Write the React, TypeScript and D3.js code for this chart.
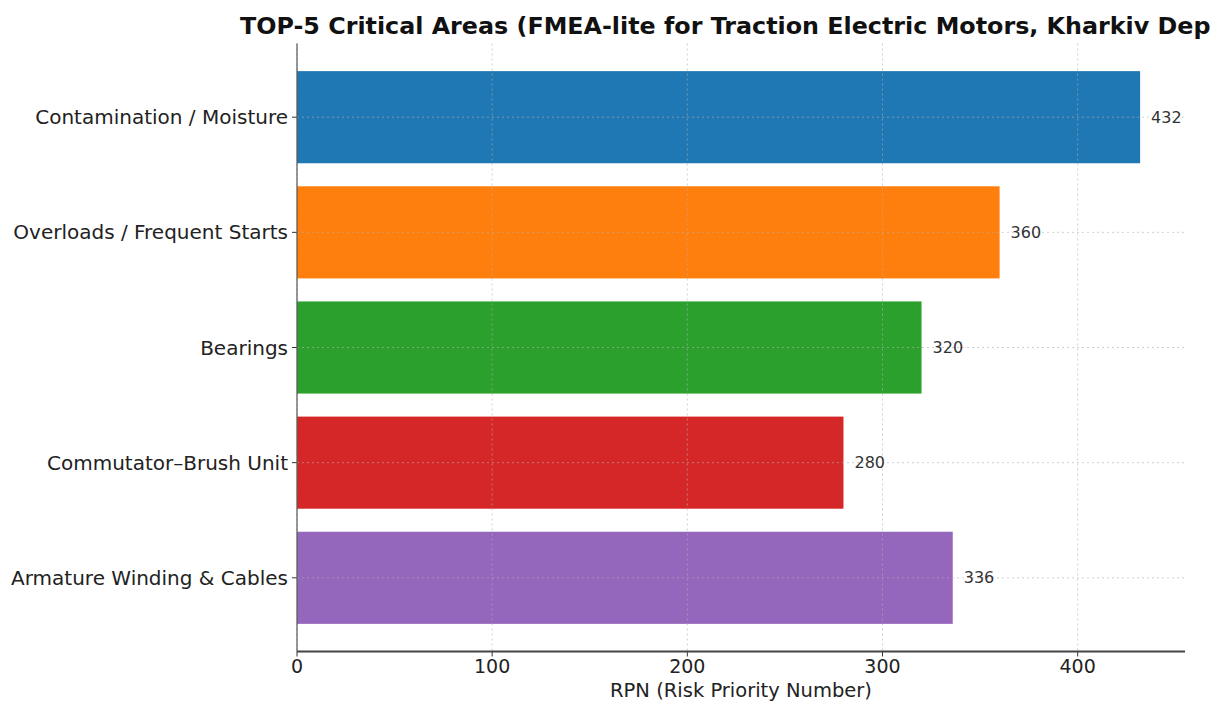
import React from "react";
import * as d3 from "d3";

const categories = [
  "Contamination / Moisture",
  "Overloads / Frequent Starts",
  "Bearings",
  "Commutator–Brush Unit",
  "Armature Winding & Cables",
];
const rpnValues = [432, 360, 320, 280, 336];
const barColors = ["#1f77b4", "#ff7f0e", "#2ca02c", "#d62728", "#9467bd"];
const xTicks = [0, 100, 200, 300, 400];
const title = "TOP-5 Critical Areas (FMEA-lite for Traction Electric Motors, Kharkiv Dep";
const xLabel = "RPN (Risk Priority Number)";

const W = 1211;
const H = 702;
const left = 297;
const right = 1185;
const top = 43.5;
const bottom = 651.5;
const font = "'DejaVu Sans', sans-serif";

export default function App() {
  const x = d3.scaleLinear().domain([0, 455]).range([left, right]);
  const yIdx = d3.scaleLinear().domain([-0.64, 4.64]).range([top, bottom]);
  const barH = yIdx(0.4) - yIdx(-0.4);

  return (
    <svg
      width={W}
      height={H}
      style={{ position: "absolute", left: 0, top: 0, background: "#fff" }}
      fontFamily={font}
    >
      <rect x={0} y={0} width={W} height={H} fill="#fff" />
      {categories.map((c, i) => (
        <rect
          key={c}
          x={x(0)}
          y={yIdx(i) - barH / 2}
          width={x(rpnValues[i]) - x(0)}
          height={barH}
          fill={barColors[i]}
        />
      ))}
      {xTicks.map((t) => (
        <line
          key={"gx" + t}
          x1={x(t)}
          x2={x(t)}
          y1={top}
          y2={bottom}
          stroke="#b0b0b0"
          strokeOpacity={0.6}
          strokeDasharray="2,3"
          strokeWidth={1}
        />
      ))}
      {categories.map((c, i) => (
        <line
          key={"gy" + c}
          x1={left}
          x2={right}
          y1={yIdx(i)}
          y2={yIdx(i)}
          stroke="#b0b0b0"
          strokeOpacity={0.6}
          strokeDasharray="2,3"
          strokeWidth={1}
        />
      ))}
      {categories.map((c, i) => (
        <text
          key={"v" + c}
          x={x(rpnValues[i]) + 11}
          y={yIdx(i)}
          dy="0.35em"
          fontSize={16}
          fill="#333"
        >
          {rpnValues[i]}
        </text>
      ))}
      {categories.map((c, i) => (
        <g key={"yt" + c}>
          <line x1={left - 5} x2={left} y1={yIdx(i)} y2={yIdx(i)} stroke="#333" strokeWidth={1} />
          <text
            x={left - 9}
            y={yIdx(i)}
            dy="0.35em"
            textAnchor="end"
            fontSize={20}
            fill="#222"
          >
            {c}
          </text>
        </g>
      ))}
      {xTicks.map((t) => (
        <g key={"xt" + t}>
          <line x1={x(t)} x2={x(t)} y1={bottom} y2={bottom + 5} stroke="#333" strokeWidth={1} />
          <text x={x(t)} y={673} textAnchor="middle" fontSize={19} fill="#222">
            {t}
          </text>
        </g>
      ))}
      <line x1={left} x2={left} y1={top} y2={bottom} stroke="#555" strokeWidth={1.2} />
      <line x1={left} x2={right} y1={bottom} y2={bottom} stroke="#444" strokeWidth={2} />
      <text x={(left + right) / 2} y={697} textAnchor="middle" fontSize={19.5} fill="#222">
        {xLabel}
      </text>
      <text
        x={240}
        y={34}
        textAnchor="start"
        fontSize={23.8}
        fontWeight="bold"
        fill="#111"
      >
        {title}
      </text>
    </svg>
  );
}
